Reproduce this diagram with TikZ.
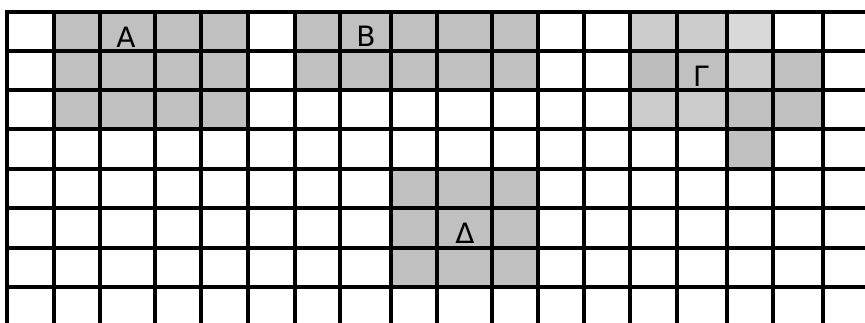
\documentclass[tikz,border=0pt]{standalone}
\usepackage{xcolor}
\usepackage{tikz}
\usepackage{fontspec}
\setmainfont{DejaVu Sans}
\definecolor{CellGray}  {HTML}{C0C0C0}
\definecolor{CellLight} {HTML}{CCCCCC}
\definecolor{CellPale}  {HTML}{D9D9D9}
\definecolor{CellDark}  {HTML}{BDBDBD}
\tikzset{gridline/.style={line width=3pt,black},
  letter/.style={anchor=base,inner sep=0pt,font=\fontsize{21}{21}\selectfont}}

\begin{document}
\begin{tikzpicture}[x=0.75pt,y=-0.75pt]
    \useasboundingbox (0,0) rectangle (865,323);
    % shaded figures
    \fill[CellGray] (54,12) rectangle (248,129);
    \fill[CellGray] (295,12) rectangle (538,90);
    \fill[CellGray] (391,169) rectangle (538,287);
    \fill[CellLight] (630,12) rectangle (727,51);
    \fill[CellPale]  (727,12) rectangle (773,51);
    \fill[CellDark]  (630,51) rectangle (677,90);
    \fill[CellGray]  (677,51) rectangle (727,90);
    \fill[CellLight] (727,51) rectangle (773,90);
    \fill[CellGray]  (773,51) rectangle (823,129);
    \fill[CellLight] (630,90) rectangle (727,129);
    \fill[CellGray]  (727,90) rectangle (773,169);
    % grid
    \foreach \x in {7,54,100,155,201,248,295,340,391,437,492,538,584,630,677,727,773,823}
      \draw[gridline] (\x,10) -- (\x,323);
    \foreach \y in {12,51,90,129,169,208,248,287}
      \draw[gridline] (5,\y) -- (865,\y);
    % labels
    \node[letter] (alpha) at (126,48) {Α};
    \node[letter] (beta)  at (366,47) {Β};
    \node[letter] (gamma) at (701,87) {Γ};
    \node[letter] (delta) at (465,244) {Δ};
  \end{tikzpicture}
\end{document}
